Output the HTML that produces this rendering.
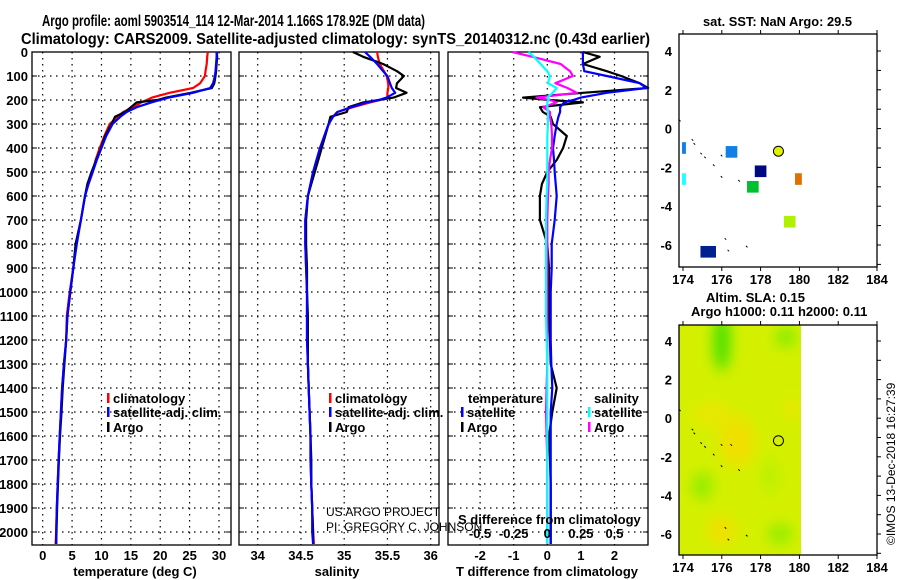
<!DOCTYPE html>
<html><head><meta charset="utf-8"><style>
html,body{margin:0;padding:0;background:#fff;}
svg{display:block;font-family:"Liberation Sans",sans-serif;}
.b{font-weight:bold;font-size:13px;}
.t{font-weight:bold;font-size:15.5px;}
</style></head><body>
<svg id="c" width="900" height="580" viewBox="0 0 900 580">
<text x="42" y="26" class="t" textLength="383" lengthAdjust="spacingAndGlyphs">Argo profile: aoml 5903514_114 12-Mar-2014 1.166S 178.92E (DM data)</text>
<text x="21" y="44" class="t" textLength="629" lengthAdjust="spacingAndGlyphs">Climatology: CARS2009. Satellite-adjusted climatology: synTS_20140312.nc (0.43d earlier)</text>
<text x="703" y="26" class="b" textLength="149" lengthAdjust="spacingAndGlyphs">sat. SST: NaN Argo: 29.5</text>
<text x="706" y="302" class="b">Altim. SLA: 0.15</text>
<text x="691" y="316" class="b">Argo h1000: 0.11 h2000: 0.11</text>
<text transform="translate(895,545) rotate(-90)" font-size="12">©IMOS 13-Dec-2018 16:27:39</text>
</svg>
<script>
// ---- data ----
const depths = [0,20,50,80,100,130,150,170,190,200,210,230,250,270,300,350,400,450,500,550,600,700,800,900,1000,1100,1200,1300,1400,1500,1600,1700,1800,1900,2000,2050];
const tempClim = [28.1,28.0,27.9,27.7,27.6,26.8,25.6,21.6,18.6,17.7,16.8,15.4,13.7,12.8,11.4,10.5,9.7,9.0,8.5,7.8,7.2,6.5,5.7,5.2,4.6,4.1,4.0,3.6,3.3,3.1,2.9,2.7,2.55,2.4,2.3,2.2];
const tempSat = [29.6,29.6,29.5,29.4,29.3,29.0,28.5,25.6,21.5,20.0,18.5,16.0,14.3,13.2,11.9,10.8,10.0,9.2,8.5,7.8,7.2,6.5,5.8,5.2,4.7,4.2,4.0,3.6,3.3,3.1,2.9,2.7,2.55,2.4,2.3,2.3];
const tempArgo = [29.6,29.7,29.6,29.5,29.4,29.2,28.8,25.2,21.0,19.5,16.0,15.0,14.0,12.3,11.7,10.6,9.9,9.1,8.3,7.6,7.2,6.5,5.6,5.2,4.7,4.2,4.0,3.7,3.4,3.2,2.95,2.75,2.6,2.45,2.35,2.3];
const salClim = [35.38,35.39,35.41,35.46,35.49,35.51,35.51,35.50,35.50,35.41,35.30,35.10,34.92,34.87,34.82,34.77,34.72,34.68,34.64,34.61,34.58,34.55,34.55,34.56,34.57,34.57,34.57,34.58,34.59,34.60,34.61,34.61,34.62,34.63,34.64,34.65];
const salSat = [35.24,35.30,35.38,35.45,35.50,35.53,35.55,35.59,35.49,35.40,35.26,35.08,34.92,34.87,34.82,34.77,34.72,34.68,34.64,34.61,34.58,34.55,34.55,34.56,34.57,34.57,34.57,34.58,34.59,34.60,34.61,34.61,34.62,34.63,34.63,34.64];
const salArgo = [35.10,35.22,35.45,35.61,35.69,35.61,35.60,35.72,35.57,35.40,35.22,35.05,35.03,34.84,34.82,34.78,34.74,34.70,34.66,34.62,34.58,34.56,34.56,34.57,34.57,34.58,34.58,34.58,34.59,34.60,34.61,34.62,34.62,34.63,34.64,34.64];
const tDiffSat = [1.06,1.06,1.06,1.10,1.77,2.75,2.95,1.77,1.00,0.77,0.50,0.38,0.38,0.33,0.28,0.22,0.17,0.20,0.22,0.25,0.28,0.22,0.13,0.13,0.10,0.10,0.10,0.12,0.15,0.10,0.10,0.10,0.10,0.10,0.10,0.10];
const tDiffArgo = [1.06,1.56,1.06,1.77,2.20,2.75,3.00,1.06,-0.72,0.08,1.06,-0.22,-0.13,0.10,0.17,0.58,0.47,0.28,0.00,-0.16,-0.22,-0.22,0.00,0.05,0.05,0.05,0.08,0.10,0.28,0.15,0.05,0.08,0.10,0.10,0.10,0.10];
const sDiffSat = [-0.14,-0.10,-0.05,0.00,0.02,0.005,0.07,0.04,0.00,0.01,0.00,0.00,0.005,0.005,0.005,0.00,0.00,0.00,0.00,0.00,-0.005,-0.01,-0.01,-0.01,-0.01,-0.01,-0.005,0.00,0.00,0.00,0.00,0.00,0.00,0.00,0.00,0.00];
const sDiffArgo = [-0.26,-0.11,0.10,0.17,0.19,0.06,0.15,0.22,-0.08,0.02,0.07,-0.03,0.02,0.02,0.03,0.035,0.035,0.02,0.01,0.01,0.005,0.00,0.00,0.00,0.00,0.00,0.00,0.00,-0.005,-0.01,-0.005,0.00,0.00,0.00,0.00,0.00];
const depthTicks = [0,100,200,300,400,500,600,700,800,900,1000,1100,1200,1300,1400,1500,1600,1700,1800,1900,2000];
const tempTicks = [0,5,10,15,20,25,30];
const salTicks = [34,34.5,35,35.5,36];
const salTickLabels = ['34','34.5','35','35.5','36'];
const tDiffTicks = [-2,-1,0,1,2];
const sDiffTicks = [-0.5,-0.25,0,0.25,0.5];
const mapLonTicks = [174,176,178,180,182,184];
const mapLatTicks = [4,2,0,-2,-4,-6];
const sstLon = [176.5,178.0,177.6,179.95,179.5,174.05,174.05,175.3];
const sstLat = [-1.2,-2.2,-3.0,-2.6,-4.8,-1.0,-2.6,-6.35];
const sstW = [0.6,0.6,0.6,0.35,0.6,0.2,0.2,0.8];
const sstColor = ['#1080e8','#000a80','#00c030','#e07000','#b0f000','#1080e8','#20ffff','#002090'];
const argoLon = 178.92, argoLat = -1.166;
const coastLon = [173.85,174.5,174.6,174.95,175.15,175.6,176.0,176.5,176.0,176.9,176.2,177.3,176.35];
const coastLat = [0.4,-0.6,-0.8,-1.3,-1.5,-1.9,-1.4,-1.4,-2.5,-2.7,-5.7,-6.1,-6.3];

// ---- helpers ----
const NS='http://www.w3.org/2000/svg';
const svg=document.getElementById('c');
function mk(tag,attrs,parent){const e=document.createElementNS(NS,tag);for(const k in attrs)e.setAttribute(k,attrs[k]);(parent||svg).appendChild(e);return e;}
const yTop=52, pxPer100=24;
const yD = d => yTop + d*pxPer100/100;
const yBot = 545;
function lin(v0,p0,v1,p1){return v=>p0+(v-v0)*(p1-p0)/(v1-v0);}

function panel(name,x0,x1,xs,ticks,labels,gridTicks){
  const g=mk('g',{});
  
  
  depthTicks.forEach(d=>{ if(d>0) mk('line',{x1:x0,x2:x1,y1:yD(d),y2:yD(d),stroke:'#000','stroke-width':1.2,'stroke-dasharray':'1.5 4.5'},g);});
  (gridTicks||ticks).forEach(t=>{mk('line',{x1:xs(t),x2:xs(t),y1:yTop,y2:yBot,stroke:'#000','stroke-width':1.2,'stroke-dasharray':'1.5 4.5'},g);});
  mk('rect',{x:x0,y:yTop,width:x1-x0,height:yBot-yTop,fill:'none',stroke:'#000','stroke-width':1.3},g);
  depthTicks.forEach(d=>{mk('line',{x1:x0,x2:x0+5,y1:yD(d),y2:yD(d),stroke:'#000'},g);mk('line',{x1:x1-5,x2:x1,y1:yD(d),y2:yD(d),stroke:'#000'},g);});
  return g;
}
function line(g,xs,vals,color,name,w){
  const pts=vals.map((v,i)=>xs(v).toFixed(1)+','+yD(depths[i]).toFixed(1)).join(' ');
  const p=mk('polyline',{points:pts,fill:'none',stroke:color,'stroke-width':w||2.2,'stroke-linejoin':'round'},g);
  
  
}
function txt(x,y,s,opts,name){const t=mk('text',Object.assign({x:x,y:y,class:'b'},opts||{}));t.textContent=s;return t;}

depthTicks.forEach(d=>{txt(28,yD(d)+5,String(d),{'text-anchor':'end'},'depth-tick-label');});

// panel 1 temperature
const xT=lin(0,42.7,30,219);
const g1=panel('temperature-panel',32,231,xT,tempTicks);
line(g1,xT,tempClim,'#ff0000','temp-climatology-line');
line(g1,xT,tempArgo,'#000','temp-argo-line');
line(g1,xT,tempSat,'#0000ff','temp-satellite-line');
tempTicks.forEach(t=>txt(xT(t),560,String(t),{'text-anchor':'middle'},'temp-tick-label'));
txt(135,576,'temperature (deg C)',{'text-anchor':'middle'},'temp-axis-title');

// panel 2 salinity
const xS=lin(34,257.7,36,430.7);
const g2=panel('salinity-panel',239,439,xS,salTicks);
line(g2,xS,salClim,'#ff0000','sal-climatology-line');
line(g2,xS,salArgo,'#000','sal-argo-line');
line(g2,xS,salSat,'#0000ff','sal-satellite-line');
salTicks.forEach((t,i)=>txt(xS(t),560,salTickLabels[i],{'text-anchor':'middle'},'sal-tick-label'));
txt(337,576,'salinity',{'text-anchor':'middle'},'sal-axis-title');

// panel 3 differences
const xTd=lin(0,547.3,2,614.5);
const xSd=v=>xTd(v*4);
const g3=panel('difference-panel',448,648,xTd,tDiffTicks);
line(g3,xTd,tDiffArgo,'#000','tdiff-argo-line');
line(g3,xTd,tDiffSat,'#0000ff','tdiff-satellite-line');
line(g3,xSd,sDiffArgo,'#ff00ff','sdiff-argo-line');
line(g3,xSd,sDiffSat,'#00ffff','sdiff-satellite-line');
tDiffTicks.forEach(t=>txt(xTd(t),560,String(t),{'text-anchor':'middle'},'tdiff-tick-label'));
sDiffTicks.forEach(t=>txt(xSd(t),538,String(t),{'text-anchor':'middle'},'sdiff-tick-label'));
txt(458,524,'S difference from climatology',{},'sdiff-axis-title');
txt(547,576,'T difference from climatology',{'text-anchor':'middle'},'tdiff-axis-title');

// legends
function leg(x,y,color,label,name){const g=mk('g',{});
  mk('rect',{x:x,y:y-10,width:2.5,height:10,fill:color},g);const t=mk('text',{x:x+6,y:y,class:'b'},g);t.textContent=label;}
leg(107,403,'#ff0000','climatology','legend-climatology');
leg(107,417,'#0000ff','satellite-adj. clim.','legend-satellite');
leg(107,432,'#000','Argo','legend-argo');
leg(329,403,'#ff0000','climatology','legend2-climatology');
leg(329,417,'#0000ff','satellite-adj. clim.','legend2-satellite');
leg(329,432,'#000','Argo','legend2-argo');
txt(468,403,'temperature',{},'legend-temperature-heading');
leg(461,417,'#0000ff','satellite','legend-tdiff-satellite');
leg(461,432,'#000','Argo','legend-tdiff-argo');
txt(594,403,'salinity',{},'legend-salinity-heading');
leg(588,417,'#00ffff','satellite','legend-sdiff-satellite');
leg(588,432,'#ff00ff','Argo','legend-sdiff-argo');
txt(326,516,'US ARGO PROJECT',{class:'','font-size':12},'credit-project');
txt(326,531,'PI: GREGORY C. JOHNSON',{class:'','font-size':12},'credit-pi');

// maps
function map(name,top,bottom,latAt4,latAtM6,field){
  const g=mk('g',{});
  const xL=lin(174,683,184,877), yL=lin(4,latAt4,-6,latAtM6);
  if(field) field(g,xL,yL);
  mk('rect',{x:679,y:top,width:198,height:bottom-top,fill:'none',stroke:'#000','stroke-width':1.3},g);
  mapLonTicks.forEach(l=>{mk('line',{x1:xL(l),x2:xL(l),y1:top-4,y2:top,stroke:'#000'},g);mk('line',{x1:xL(l),x2:xL(l),y1:bottom,y2:bottom+4,stroke:'#000'},g);
    txt(xL(l),bottom+17,String(l),{'text-anchor':'middle'},'map-lon-label');});
  for(let l=4;l>=-7;l--){ if(yL(l)>top&&yL(l)<bottom){mk('line',{x1:877,x2:881,y1:yL(l),y2:yL(l),stroke:'#000'},g);}}
  mapLatTicks.forEach(l=>txt(672,yL(l)+5,String(l),{'text-anchor':'end'},'map-lat-label'));
  coastLon.forEach((lo,i)=>{mk('path',{d:`M${(xL(lo)-1).toFixed(1)},${(yL(coastLat[i])-1).toFixed(1)} l1.5,1.5`,stroke:'#000','stroke-width':1,fill:'none'},g);});
  return {g,xL,yL};
}
const m1=map('sst-map',34,267,51,245);
sstLon.forEach((lo,i)=>{const r=mk('rect',{x:m1.xL(lo-sstW[i]/2),y:m1.yL(sstLat[i]+0.3),width:sstW[i]*19.4,height:0.6*19.4,fill:sstColor[i]},m1.g);
  });
const c1=mk('circle',{cx:m1.xL(argoLon),cy:m1.yL(argoLat),r:5,fill:'#e0f000',stroke:'#000'},m1.g);


const m2=map('sla-map',325,555,341,534,(g,xL,yL)=>{
  const defs=mk('defs',{},g);
  const f=mk('filter',{id:'bl',x:'-50%',y:'-50%',width:'200%',height:'200%'},defs);mk('feGaussianBlur',{stdDeviation:7},f);
  const cp=mk('clipPath',{id:'fc'},defs);mk('rect',{x:679,y:325,width:122,height:230},cp);
  const fg=mk('g',{'clip-path':'url(#fc)'},g);
  mk('rect',{x:679,y:325,width:122,height:230,fill:'#d4f000'},fg);
  const bl=mk('g',{filter:'url(#bl)'},fg);
  [[176,4,8,30,'#40e000'],[179.3,4.2,10,10,'#80ec00'],[176.8,-1.2,18,25,'#f0e000'],[175.5,0.2,20,12,'#e8e800'],[176,-5.8,14,14,'#f0e000'],[175,-3.5,10,14,'#90ec00'],[179,-6,12,10,'#90ec00'],[178.5,-3,8,18,'#b8f000'],[179.6,0.5,8,8,'#f0e400']]
   .forEach(b=>mk('ellipse',{cx:xL(b[0]),cy:yL(b[1]),rx:b[2],ry:b[3],fill:b[4]},bl));
});
const c2=mk('circle',{cx:m2.xL(argoLon),cy:m2.yL(argoLat),r:5,fill:'none',stroke:'#000'},m2.g);

</script>
</body></html>
